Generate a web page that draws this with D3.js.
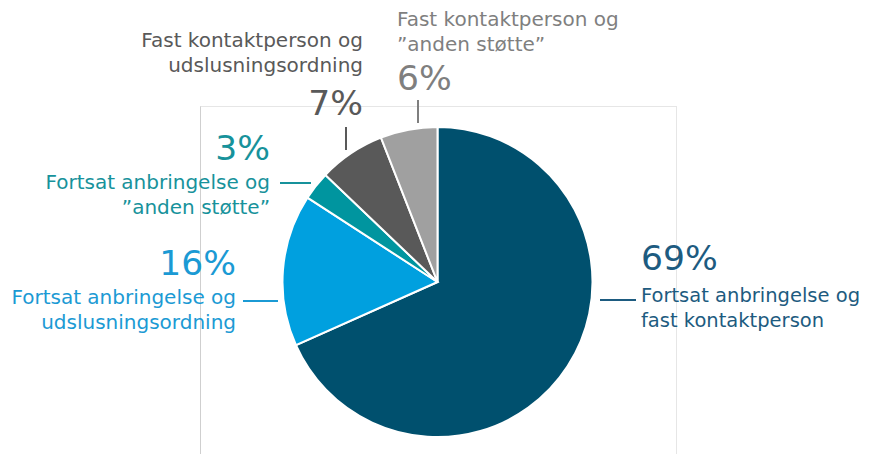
<!DOCTYPE html>
<html lang="en">
<head>
	<meta charset="UTF-8">
	<title>Pie</title>
	<style>
		body { margin: 0; background: #fff; }
		text { font-family: "DejaVu Sans", Verdana, sans-serif; }
	</style>
</head>
<body>
	<svg id="chart" width="871" height="454"></svg>
	<script src="https://cdn.jsdelivr.net/npm/d3@7"></script>
	<script>
		// data
		var categories = [
			"Fortsat anbringelse og|fast kontaktperson",
			"Fortsat anbringelse og|udslusningsordning",
			"Fortsat anbringelse og|\u201danden st\u00f8tte\u201d",
			"Fast kontaktperson og|udslusningsordning",
			"Fast kontaktperson og|\u201danden st\u00f8tte\u201d"
		];
		var values = [69, 16, 3, 7, 6];
		var sliceColors = ["#00506e", "#00a0df", "#00959f", "#595959", "#a0a0a0"];
		var textColors = ["#1d5b80", "#1b9ad4", "#17929b", "#595959", "#7f7f7f"];

		// label layout: anchor, text x, pct baseline, first label baseline, font size, leader line
		var labelLayout = [
			{ anchor: "start", x: 641, pctY: 270, lblY: 302, fs: 19.5, line: [[600, 300], [636, 300]] },
			{ anchor: "end", x: 236, pctY: 275, lblY: 304, fs: 20, line: [[243, 301], [278, 301]] },
			{ anchor: "end", x: 270, pctY: 160, lblY: 189, fs: 20, line: [[280, 183], [311, 183]] },
			{ anchor: "end", x: 363, pctY: 115, lblY: 47, fs: 20, line: [[346, 127], [346, 150]] },
			{ anchor: "start", x: 397, pctY: 90, lblY: 26, fs: 20, line: [[418, 100], [418, 123]] }
		];

		var svg = d3.select("#chart");
		var cx = 437.5, cy = 282, r = 155;

		// plot area frame
		svg.append("rect")
			.attr("x", 200.5).attr("y", 106.5)
			.attr("width", 476).attr("height", 360)
			.attr("fill", "none")
			.attr("stroke", "#e6e6e6");
		svg.append("line")
			.attr("x1", 200.5).attr("x2", 200.5)
			.attr("y1", 106.5).attr("y2", 454)
			.attr("stroke", "#cfcfcf");

		var pie = d3.pie().sort(null).value(function(d) { return d; });
		var arc = d3.arc().innerRadius(0).outerRadius(r);

		var g = svg.append("g").attr("transform", "translate(" + cx + "," + cy + ")");
		g.selectAll("path")
			.data(pie(values))
			.enter().append("path")
			.attr("d", arc)
			.attr("fill", function(d, i) { return sliceColors[i]; })
			.attr("stroke", "#fff")
			.attr("stroke-width", 2);

		var labels = svg.selectAll("g.lbl")
			.data(values)
			.enter().append("g")
			.attr("class", "lbl");

		labels.append("path")
			.attr("d", function(d, i) { return d3.line()(labelLayout[i].line); })
			.attr("stroke", function(d, i) { return textColors[i]; })
			.attr("stroke-width", 2)
			.attr("fill", "none");

		labels.append("text")
			.attr("x", function(d, i) { return labelLayout[i].x; })
			.attr("y", function(d, i) { return labelLayout[i].pctY; })
			.attr("text-anchor", function(d, i) { return labelLayout[i].anchor; })
			.attr("font-size", 34.5)
			.attr("fill", function(d, i) { return textColors[i]; })
			.text(function(d) { return d + "%"; });

		labels.each(function(d, i) {
			var lay = labelLayout[i];
			var t = d3.select(this).append("text")
				.attr("text-anchor", lay.anchor)
				.attr("font-size", lay.fs)
				.attr("fill", textColors[i]);
			categories[i].split("|").forEach(function(line, k) {
				t.append("tspan")
					.attr("x", lay.x)
					.attr("y", lay.lblY + k * 25)
					.text(line);
			});
		});
	</script>
</body>
</html>
